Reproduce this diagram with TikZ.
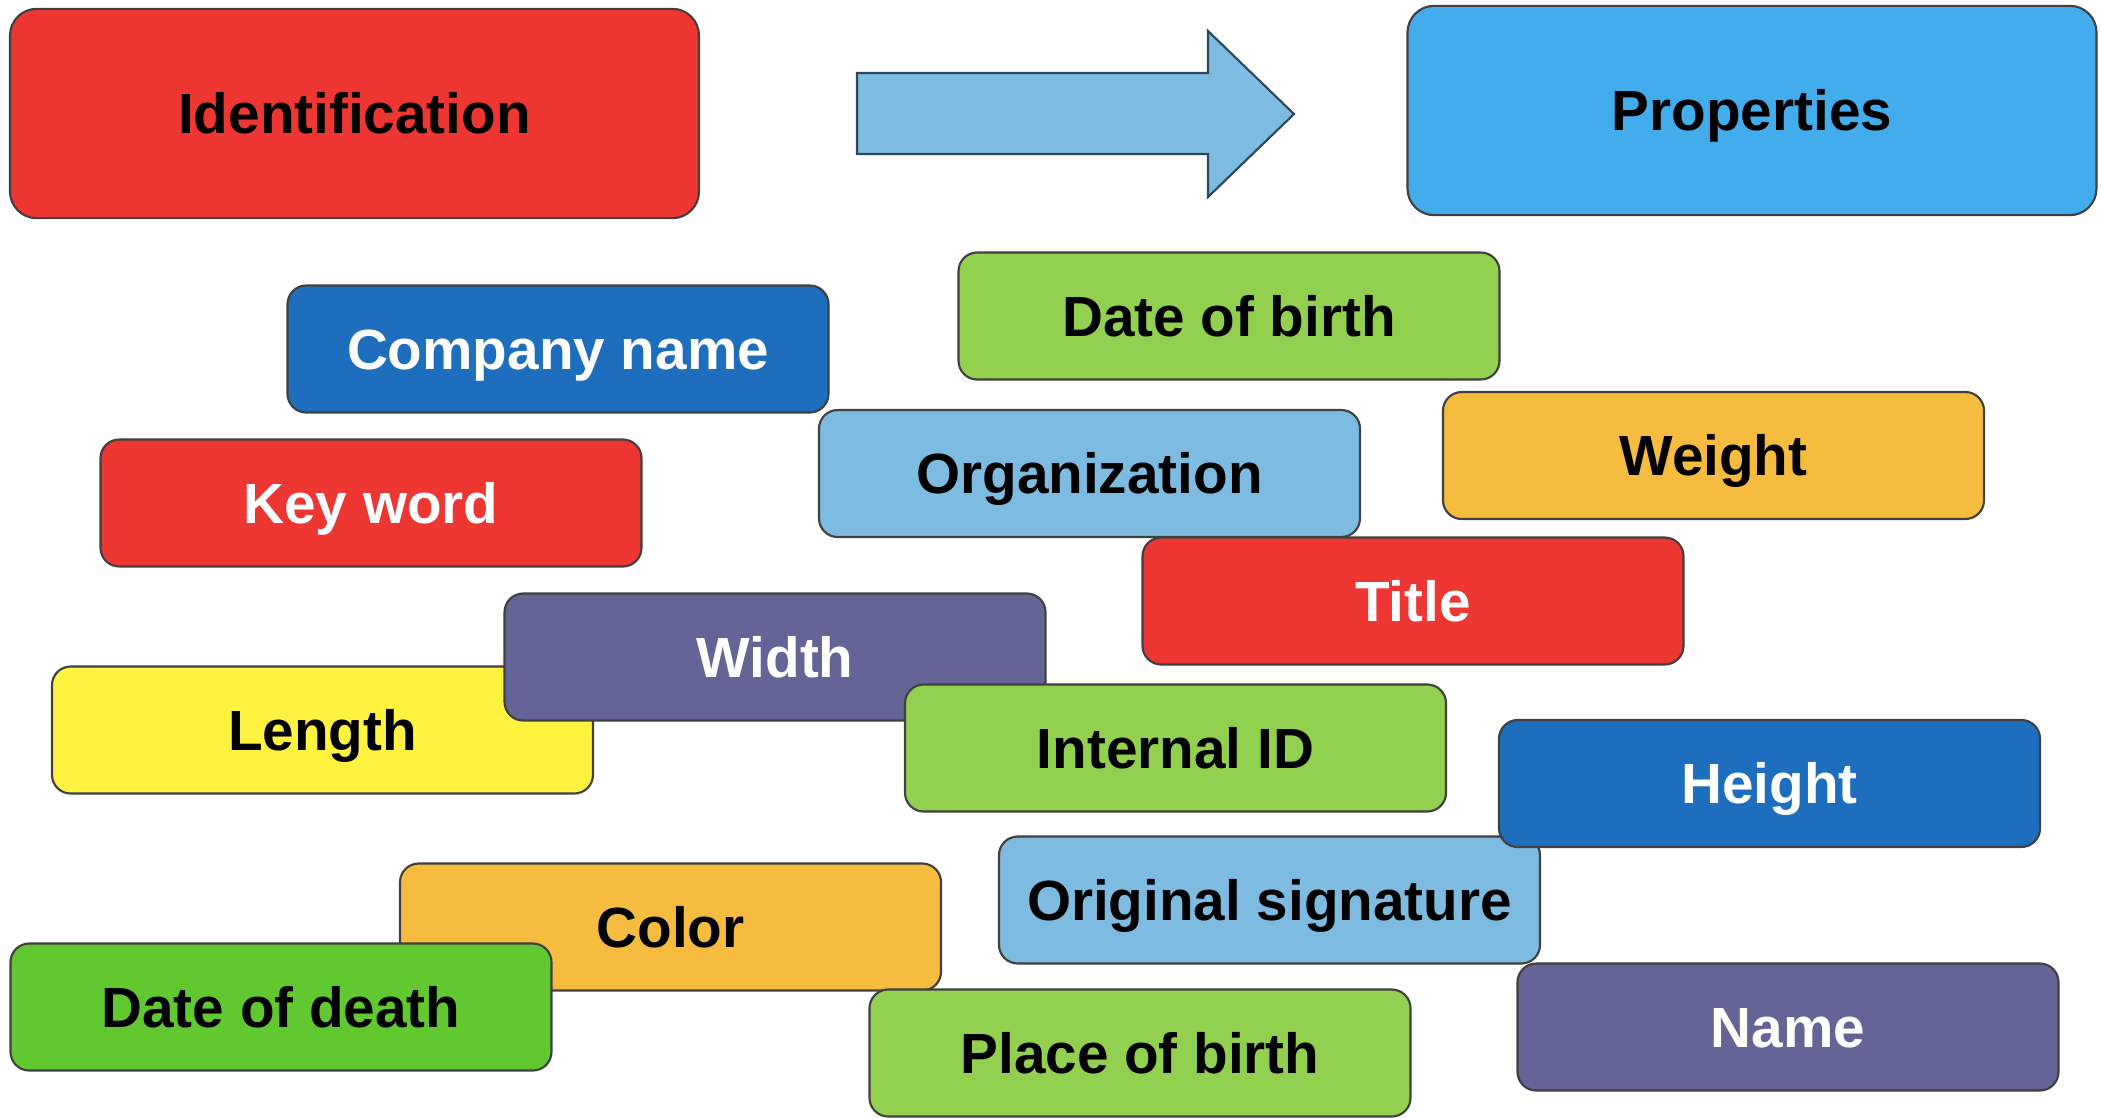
\documentclass[tikz,border=0pt]{standalone}
\usepackage{fontspec}
\setmainfont{Liberation Sans}

\definecolor{tagred}{RGB}{238,54,50}
\definecolor{tagsky}{RGB}{66,172,236}
\definecolor{tagnavy}{RGB}{30,110,190}
\definecolor{tagpale}{RGB}{125,187,225}
\definecolor{taggreen}{RGB}{146,208,80}
\definecolor{taglime}{RGB}{98,200,48}
\definecolor{tagorange}{RGB}{246,188,64}
\definecolor{tagyellow}{RGB}{255,243,64}
\definecolor{tagpurple}{RGB}{100,100,150}

\tikzset{every picture/.style={line width=0.75pt}}
\tikzset{
  tag/.style={draw=black!75, line width=1.6pt, rounded corners=14pt,
    minimum width=405.75pt, minimum height=95.25pt, inner sep=0pt,
    text height=30.5pt, text depth=0pt,
    font=\fontsize{42.5}{48}\selectfont\bfseries},
  bigtag/.style={tag, rounded corners=20pt, minimum width=516.75pt, minimum height=157pt}
}

\begin{document}
\begin{tikzpicture}[x=0.75pt,y=0.75pt,yscale=-1,xscale=1]
\useasboundingbox (0,0) rectangle (2101,1118);

%Rounded Rect (top)
\node [bigtag, fill=tagred] (ident) at (354.5,113.5) {Identification};
%Shape: Right Arrow
\draw [fill=tagpale, draw={rgb, 255:red, 45; green, 70; blue, 90}, line width=1.6pt]
  (857,73) -- (1208,73) -- (1208,31) -- (1294,114) -- (1208,197) -- (1208,154) -- (857,154) -- cycle ;
\node [bigtag, fill=tagsky] (props) at (1752,110.5) {Properties};

%Rounded Rect (tags)
\node [tag, fill=tagnavy, text=white] (company) at (558,349) {Company name};
\node [tag, fill=taggreen] (birthdate) at (1229,316) {Date of birth};
\node [tag, fill=tagred, text=white] (keyword) at (371,503) {Key word};
\node [tag, fill=tagpale] (org) at (1089.5,473.5) {Organization};
\node [tag, fill=tagorange] (weight) at (1713.5,455.5) {Weight};
\node [tag, fill=tagred, text=white] (title) at (1413,601) {Title};
\node [tag, fill=tagyellow] (length) at (322.5,730) {Length};
\node [tag, fill=tagpurple, text=white] (width) at (775,657) {Width};
\node [tag, fill=taggreen] (internal) at (1175.5,748) {Internal ID};
\node [tag, fill=tagpale] (signature) at (1269.5,900) {Original signature};
\node [tag, fill=tagnavy, text=white] (height) at (1769.5,783.5) {Height};
\node [tag, fill=tagorange] (color) at (670.5,927) {Color};
\node [tag, fill=taglime] (deathdate) at (281,1007) {Date of death};
\node [tag, fill=taggreen] (birthplace) at (1140,1053) {Place of birth};
\node [tag, fill=tagpurple, text=white] (name) at (1788,1027) {Name};

\end{tikzpicture}
\end{document}
